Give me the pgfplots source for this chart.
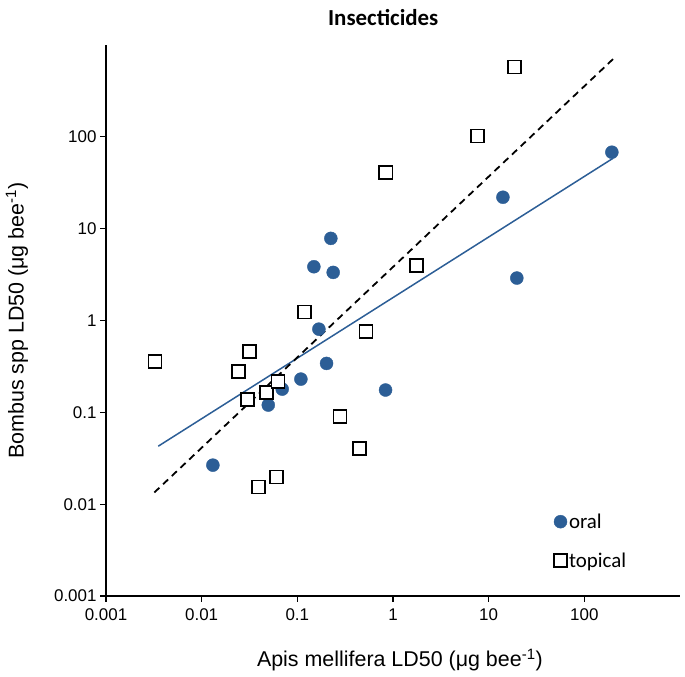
\documentclass[border=0pt]{standalone}
\usepackage{fontspec}
\setmainfont{Liberation Sans}
\newfontfamily\calibrifont{Carlito}
\usepackage{pgfplots}
\pgfplotsset{compat=1.18}
\definecolor{oralblue}{RGB}{44,94,150}
\begin{document}
\begin{tikzpicture}
\useasboundingbox (-106bp,-81bp) rectangle ++(685bp,677bp);
\begin{axis}[
  at={(0,0)}, anchor=south west,
  scale only axis, width=574bp, height=551bp,
  xmode=log, ymode=log,
  xmin=0.001, xmax=1000, ymin=0.001, ymax=1000,
  axis x line=bottom, axis y line=left,
  axis line style={-, black, line width=1.4bp},
  xtick={0.001,0.01,0.1,1,10,100},
  xticklabels={0.001,0.01,0.1,1,10,100},
  ytick={0.001,0.01,0.1,1,10,100},
  yticklabels={0.001,0.01,0.1,1,10,100},
  tick align=outside, major tick length=6bp,
  major tick style={black, line width=1.2bp},
  minor tick style={draw=none},
  tick label style={font=\fontsize{17}{20}\selectfont},
  xticklabel style={yshift=-3bp},
  xlabel={Apis mellifera LD50 (μg bee\textsuperscript{-1})},
  ylabel={Bombus spp LD50 (μg bee\textsuperscript{-1})},
  xlabel style={at={(axis description cs:0.512,-0.116)}, anchor=center, font=\fontsize{21.5}{25}\selectfont},
  ylabel style={at={(axis description cs:-0.155,0.5)}, anchor=center, font=\fontsize{21.5}{25}\selectfont},
  title={Insecticides},
  title style={at={(axis description cs:0.483,1)}, anchor=center, yshift=21bp, font=\calibrifont\bfseries\fontsize{23}{27}\selectfont},
  legend style={draw=none, fill=none, at={(axis description cs:0.775,0.157)}, anchor=north west,
    font=\calibrifont\fontsize{21}{25}\selectfont, row sep=19bp},
  legend cell align=left,
  legend image code/.code={\draw[mark repeat=2,mark phase=2] plot coordinates {(0bp,0bp) (9bp,0bp) (22bp,0bp)};},
]
\addplot[only marks, mark=*, mark size=6.5bp, color=oralblue] coordinates {
  (0.0131,0.0266) (0.0497,0.12) (0.0695,0.179) (0.109,0.23) (0.202,0.341)
  (0.168,0.805) (0.836,0.175) (0.224,7.84) (0.149,3.85) (0.237,3.34)
  (14.1,22) (19.7,2.9) (194,68)
};
\addlegendentry{oral}
\addplot[only marks, mark=square*, mark size=6.5bp, mark options={fill=white, draw=black, line width=1.8bp}] coordinates {
  (0.00325,0.355) (0.0315,0.456) (0.0245,0.276) (0.030,0.139) (0.0478,0.163)
  (0.0627,0.215) (0.118,1.24) (0.521,0.753) (0.279,0.0893) (0.444,0.0405)
  (0.0607,0.0198) (0.0391,0.0154) (0.843,41) (1.76,3.98) (18.8,575) (7.7,102)
};
\addlegendentry{topical}
\addplot[oralblue, line width=1.5bp, forget plot] coordinates {(0.00352,0.0428) (199,58.3)};
\addplot[black, line width=1.8bp, dash pattern=on 7bp off 5bp, forget plot] coordinates {(0.0032,0.0134) (200,704)};
\end{axis}
\end{tikzpicture}
\end{document}
